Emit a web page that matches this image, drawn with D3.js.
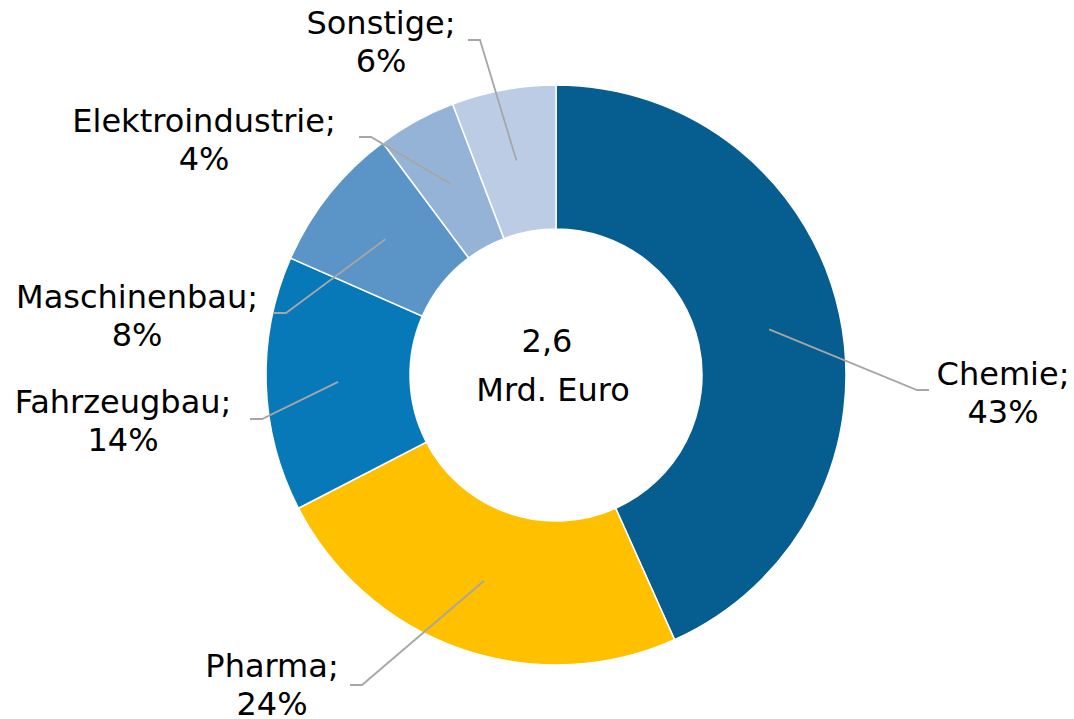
<!DOCTYPE html>
<html lang="de">
<head>
    <meta charset="UTF-8">
    <title>Umsatz nach Branchen</title>
    <style>
        body { margin: 0; background: #fff; }
        svg text { font-family: "DejaVu Sans", Verdana, sans-serif; fill: #000; }
    </style>
</head>
<body>
    <div id="chart"></div>

    <script src="https://d3js.org/d3.v7.min.js"></script>
    <script type="text/javascript">
// data (shares in %)
const categories = ["Chemie", "Pharma", "Fahrzeugbau", "Maschinenbau", "Elektroindustrie", "Sonstige"];
const shares = [43.3, 24.1, 14.2, 8.2, 4.4, 5.8];
const shareLabels = ["43%", "24%", "14%", "8%", "4%", "6%"];
const colors = ["#055E8F", "#FFC000", "#0779B8", "#5B95C8", "#95B3D7", "#BBCCE4"];
const centerLines = ["2,6", "Mrd. Euro"];

const width = 1074, height = 719;
const cx = 556, cy = 375;
const outerR = 290, innerR = 146;

// label layout: elbow of the leader line (relative to centre), direction of the short tail,
// and label centre / first baseline (relative to centre)
const labelLayout = [
    { ex: 361, ey: 15, dir: 1, tx: 447, ty: 10 },
    { ex: -194, ey: 310, dir: -1, tx: -284, ty: 302 },
    { ex: -294, ey: 44, dir: -1, tx: -433, ty: 38 },
    { ex: -270, ey: -62, dir: -1, tx: -419, ty: -67 },
    { ex: -185, ey: -238, dir: -1, tx: -352, ty: -243 },
    { ex: -76, ey: -335, dir: -1, tx: -175, ty: -341 }
];

const svg = d3.select("#chart")
    .append("svg")
    .attr("width", width)
    .attr("height", height);

const g = svg.append("g").attr("transform", `translate(${cx},${cy})`);

const pie = d3.pie().sort(null).value(d => d.value);
const arc = d3.arc().innerRadius(innerR).outerRadius(outerR);

const data = categories.map((c, i) => ({ name: c, value: shares[i], label: shareLabels[i], color: colors[i], layout: labelLayout[i] }));
const arcs = pie(data);

g.selectAll(".slice")
    .data(arcs)
    .enter()
    .append("path")
    .attr("class", "slice")
    .attr("d", arc)
    .attr("fill", d => d.data.color)
    .attr("stroke", "#fff")
    .attr("stroke-width", 1.5);

// leader lines
g.selectAll(".leader")
    .data(arcs)
    .enter()
    .append("polyline")
    .attr("class", "leader")
    .attr("fill", "none")
    .attr("stroke", "#A6A6A6")
    .attr("stroke-width", 1.8)
    .attr("points", function(d) {
        const c = arc.centroid(d);
        const l = d.data.layout;
        return [c, [l.ex, l.ey], [l.ex + 12 * l.dir, l.ey]].map(p => p.join(",")).join(" ");
    });

// labels
const labels = g.selectAll(".label")
    .data(arcs)
    .enter()
    .append("text")
    .attr("class", "label")
    .attr("text-anchor", "middle")
    .style("font-size", "32px");

labels.append("tspan")
    .attr("x", d => d.data.layout.tx)
    .attr("y", d => d.data.layout.ty)
    .text(d => d.data.name + ";");

labels.append("tspan")
    .attr("x", d => d.data.layout.tx)
    .attr("y", d => d.data.layout.ty + 38)
    .text(d => d.data.label);

// centre text
g.append("text")
    .attr("text-anchor", "middle")
    .style("font-size", "32px")
    .selectAll("tspan")
    .data(centerLines)
    .enter()
    .append("tspan")
    .attr("x", (d, i) => i === 0 ? -9 : -3)
    .attr("y", (d, i) => i === 0 ? -23 : 26)
    .text(d => d);
    </script>
</body>
</html>
